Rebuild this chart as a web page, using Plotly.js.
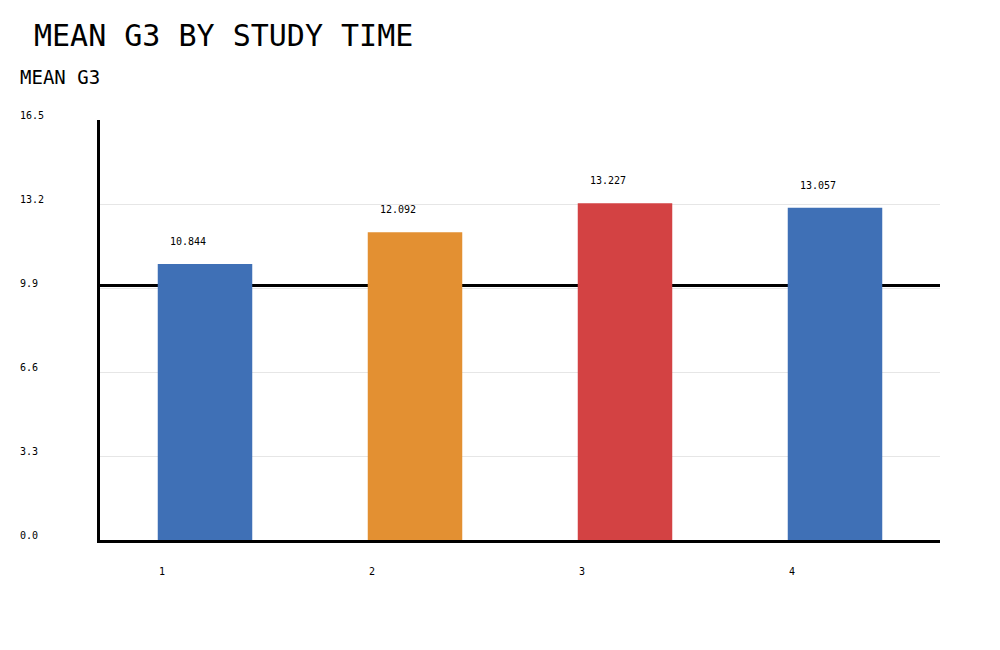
<!DOCTYPE html>
<html>
<head>
<meta charset="utf-8">
<script src="https://cdn.plot.ly/plotly-3.0.1.min.js"></script>
<style>html,body{margin:0;padding:0;background:#fff;}#chart{width:1000px;height:650px;}</style>
</head>
<body>
<div id="chart"></div>
<script>
const categories = ["1", "2", "3", "4"];
const meanG3 = [10.844, 12.092, 13.227, 13.057];
const valueLabels = ["10.844", "12.092", "13.227", "13.057"];
const barColors = ["#3f70b6", "#e39032", "#d34243", "#3f70b6"];
const yTickVals = [0, 3.3, 6.6, 9.9, 13.2, 16.5];
const yTickText = ["0.0", "3.3", "6.6", "9.9", "13.2", "16.5"];
const referenceLine = 10;

const FONT = "'DejaVu Sans Mono', 'Liberation Mono', monospace";
const maxLen = Math.max(...yTickText.map(s => s.length));
const paddedTicks = yTickText.map(s => s + "\u00a0".repeat(maxLen - s.length));

const trace = {
  type: "bar",
  x: categories,
  y: meanG3,
  marker: {color: barColors},
  width: 0.45,
  hoverinfo: "none"
};

const annotations = categories.map((c, i) => ({
  x: i, y: meanG3[i], xref: "x", yref: "y",
  text: valueLabels[i], showarrow: false,
  xanchor: "center", yanchor: "bottom",
  xshift: -17, yshift: 15,
  font: {family: FONT, size: 10, color: "#000"}
}));
annotations.push({
  xref: "paper", yref: "paper", x: -0.098, y: 1.102,
  xanchor: "left", yanchor: "middle",
  text: "MEAN G3", showarrow: false,
  font: {family: FONT, size: 19, color: "#000"}
});

const layout = {
  width: 1000, height: 650,
  paper_bgcolor: "#fff", plot_bgcolor: "#fff",
  margin: {l: 100, r: 60, t: 120, b: 110},
  title: {text: "MEAN G3 BY STUDY TIME", x: 0.034, xanchor: "left", y: 0.946, yanchor: "middle",
          font: {family: FONT, size: 30, color: "#000"}},
  showlegend: false,
  bargap: 0.55,
  xaxis: {
    type: "category", range: [-0.5, 3.5], showgrid: false, zeroline: false,
    showline: true, linecolor: "#000", linewidth: 3,
    ticks: "", tickfont: {family: FONT, size: 10, color: "#000"},
    ticklabelshift: -43, ticklabelstandoff: 20
  },
  yaxis: {
    range: [0, 16.5], tickvals: yTickVals, ticktext: paddedTicks,
    showgrid: true, gridcolor: "#e6e6e6", gridwidth: 1, zeroline: false,
    showline: true, linecolor: "#000", linewidth: 3,
    ticks: "", tickfont: {family: FONT, size: 10, color: "#000"},
    ticklabelstandoff: 51, ticklabelshift: -5
  },
  shapes: [{
    type: "line", xref: "paper", yref: "y", x0: 0, x1: 1,
    y0: referenceLine, y1: referenceLine,
    line: {color: "#000", width: 3}, layer: "below"
  }],
  annotations: annotations
};

Plotly.newPlot("chart", [trace], layout, {displayModeBar: false, staticPlot: true});
</script>
</body>
</html>
